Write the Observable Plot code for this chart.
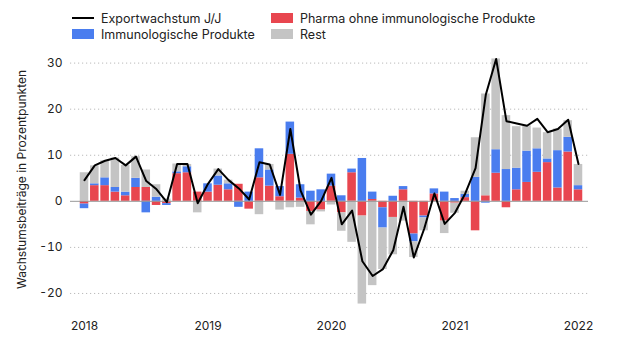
<!DOCTYPE html>
<html>
<head>
<meta charset="utf-8">
<script src="https://cdn.jsdelivr.net/npm/d3@7"></script>
<script src="https://cdn.jsdelivr.net/npm/@observablehq/plot@0.6"></script>
<style>
  body { margin: 0; background: #fff; font-family: Inter, "Noto Sans", sans-serif; color: #222; }
  #wrap { width: 640px; height: 360px; position: relative; overflow: hidden; }
  #legend { position: relative; height: 48px; font-size: 12.5px; }
  .item { position: absolute; display: flex; align-items: center; white-space: nowrap; }
  .sw { width: 22px; height: 10px; margin-right: 7px; }
  .ln { width: 22px; height: 2px; background: #000; margin-right: 7px; }
</style>
</head>
<body>
<div id="wrap">
  <div id="legend"></div>
  <div id="chart"></div>
</div>
<script>
const months = [
  "2018-01","2018-02","2018-03","2018-04","2018-05","2018-06","2018-07","2018-08","2018-09","2018-10","2018-11","2018-12",
  "2019-01","2019-02","2019-03","2019-04","2019-05","2019-06","2019-07","2019-08","2019-09","2019-10","2019-11","2019-12",
  "2020-01","2020-02","2020-03","2020-04","2020-05","2020-06","2020-07","2020-08","2020-09","2020-10","2020-11","2020-12",
  "2021-01","2021-02","2021-03","2021-04","2021-05","2021-06","2021-07","2021-08","2021-09","2021-10","2021-11","2021-12",
  "2022-01"
];
const pharma = [
  -0.6, 3.4, 3.4, 2.0, 1.2, 3.0, 3.0, -0.9, -0.5, 6.0, 6.2, 2.0,
  2.0, 3.5, 2.5, 3.7, -1.7, 5.1, 3.3, 1.0, 10.2, 0.7, -2.2, -1.9,
  3.3, -2.5, 6.2, -3.2, 0.4, -1.4, -3.5, 2.5, -7.1, -3.2, 1.6, -4.3,
  -0.4, 0.8, -6.4, 1.2, 6.1, -1.4, 2.5, 4.1, 6.3, 8.4, 2.9, 10.7,
  2.5
];
const immun = [
  -1.0, 0.4, 1.7, 1.0, 0.8, 2.0, -2.5, 0.9, -0.4, 0.4, 1.3, 0.0,
  1.8, 2.0, 1.3, -1.3, 2.0, 6.3, 3.5, 2.2, 7.0, 2.9, 2.2, 2.5,
  2.6, 1.2, 0.8, 9.3, 1.6, -4.4, 1.1, 0.7, -1.7, -0.4, 1.1, 2.0,
  0.6, 0.7, 5.2, -0.4, 5.1, 6.9, 4.7, 6.8, 5.1, 0.8, 8.1, 3.2,
  0.9
];
const rest = [
  6.2, 3.9, 3.7, 6.4, 5.8, 4.7, 3.8, 2.7, 0.5, 1.7, 0.5, -2.5,
  0.0, 1.5, 0.8, 0.0, 0.0, -2.9, 1.2, -1.9, -1.4, -1.3, -2.9, -0.4,
  -0.8, -4.0, -8.9, -19.1, -18.3, -9.0, -8.1, -4.3, -3.4, -2.8, 0.0, -2.7,
  -2.2, 0.7, 8.6, 22.1, 19.7, 11.7, 9.0, 5.5, 4.5, 5.7, 4.7, 3.6,
  4.6
];
const exportGrowth = [
  4.6, 7.8, 8.8, 9.4, 7.8, 9.7, 4.4, 2.6, -0.2, 8.1, 8.1, -0.4,
  3.8, 7.0, 4.6, 2.8, 0.4, 8.5, 8.0, 1.4, 15.7, 2.3, -2.9, 0.1,
  5.1, -5.0, -2.0, -13.0, -16.2, -14.7, -10.6, -1.2, -12.2, -6.0, 1.7, -4.9,
  -2.5, 1.7, 7.2, 23.2, 30.9, 17.4, 16.9, 16.4, 17.9, 15.0, 15.7, 17.7,
  8.1
];
const seriesNames = ["Pharma ohne immunologische Produkte", "Immunologische Produkte", "Rest"];
const seriesColors = ["#e8464f", "#4a7def", "#c4c4c4"];
const lineName = "Exportwachstum J/J";
const yTicks = [-20, -10, 0, 10, 20, 30];
const xTicks = ["2018-01", "2019-01", "2020-01", "2021-01", "2022-01"];
const yLabel = "Wachstumsbeiträge in Prozentpunkten";

const bars = [];
months.forEach((m, i) => {
  bars.push({month: m, key: seriesNames[0], value: pharma[i]});
  bars.push({month: m, key: seriesNames[1], value: immun[i]});
  bars.push({month: m, key: seriesNames[2], value: rest[i]});
});
const line = months.map((m, i) => ({month: m, value: exportGrowth[i]}));

// legend
const legend = document.getElementById("legend");
const items = [
  {label: lineName, type: "line", left: 72, top: 11},
  {label: seriesNames[1], type: "sw", color: seriesColors[1], left: 72, top: 27},
  {label: seriesNames[0], type: "sw", color: seriesColors[0], left: 271, top: 11},
  {label: seriesNames[2], type: "sw", color: seriesColors[2], left: 271, top: 27}
];
items.forEach(it => {
  const d = document.createElement("div");
  d.className = "item";
  d.style.left = it.left + "px";
  d.style.top = it.top + "px";
  d.style.height = "14px";
  const s = document.createElement("span");
  if (it.type === "line") s.className = "ln";
  else { s.className = "sw"; s.style.background = it.color; }
  d.appendChild(s);
  const t = document.createElement("span");
  t.textContent = it.label;
  d.appendChild(t);
  legend.appendChild(d);
});

const chart = Plot.plot({
  width: 640,
  height: 312,
  marginLeft: 70,
  marginRight: 52,
  marginTop: 10,
  marginBottom: 44,
  style: {fontFamily: "Inter, 'Noto Sans', sans-serif", fontSize: "12px", color: "#222", background: "transparent"},
  x: {type: "band", domain: months, padding: 0.17, round: false, insetLeft: 8, insetRight: 4, label: null},
  y: {domain: [-25, 31], label: null},
  color: {domain: seriesNames, range: seriesColors},
  marks: [
    Plot.ruleY(yTicks.filter(d => d !== 0), {stroke: "#bbb", strokeDasharray: "1.2,2.8", strokeWidth: 1}),
    Plot.barY(bars, Plot.stackY({x: "month", y: "value", fill: "key", order: null})),
    Plot.ruleY([0], {stroke: "#999", strokeWidth: 1}),
    Plot.lineY(line, {x: "month", y: "value", stroke: "#000", strokeWidth: 2}),
    Plot.axisY({ticks: yTicks, tickSize: 0, tickPadding: 8, tickFormat: d => String(d), label: null, fontSize: 12}),
    Plot.text([yLabel], {frameAnchor: "left", textAnchor: "middle", rotate: -90, dx: -48, dy: -8, fontSize: 12, fill: "#222"}),
    Plot.axisX({ticks: xTicks, tickSize: 0, tickPadding: 5, tickFormat: d => d.slice(0, 4), fontSize: 12, label: null})
  ]
});
document.getElementById("chart").appendChild(chart);
</script>
</body>
</html>
